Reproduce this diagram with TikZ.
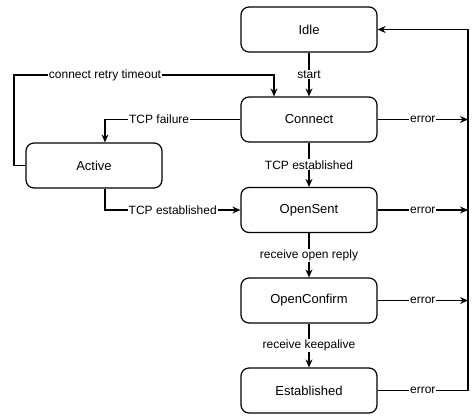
\documentclass[tikz,border=0pt]{standalone}
\usepackage{fontspec}
\setmainfont{Liberation Sans}
\usetikzlibrary{arrows.meta}
\begin{document}
\begin{tikzpicture}[x=1pt,y=-1pt,
  state/.style={draw, rounded corners=8pt, minimum width=136pt, minimum height=45pt, line width=1.2pt, font=\fontsize{13}{15}\selectfont, inner sep=0pt},
  lbl/.style={fill=white, inner sep=1pt, font=\fontsize{12}{14}\selectfont},
  conn/.style={line width=1.2pt, -{Stealth[length=8pt,width=7pt]}},
  plain/.style={line width=1.2pt}]
\useasboundingbox (0,0) rectangle (474,418);
\node[state] (idle) at (309,29.5) {Idle};
\node[state] (connect) at (309,119.5) {Connect};
\node[state] (opensent) at (309,210) {OpenSent};
\node[state] (openconfirm) at (309,300.5) {OpenConfirm};
\node[state] (established) at (309,390.5) {Established};
\node[state] (active) at (94,165.5) {Active};
\coordinate (busTop) at (468,29.5);
\coordinate (busBot) at (468,390.5);
\coordinate (crL) at (14,75);
\coordinate (crR) at (274,75);
\coordinate (tfx) at (105,119.5);
% error bus back to Idle
\draw[conn] (established.east) -- node[lbl]{error} (busBot) -- (busTop) -- (idle.east);
\draw[conn] (connect.east) -- node[lbl]{error} (connect.east -| busBot);
\draw[conn] (opensent.east) -- node[lbl]{error} (opensent.east -| busBot);
\draw[conn] (openconfirm.east) -- node[lbl]{error} (openconfirm.east -| busBot);
% main chain
\draw[conn] (idle) -- node[lbl]{start} (connect);
\draw[conn] (connect) -- node[lbl]{TCP established} (opensent);
\draw[conn] (opensent) -- node[lbl]{receive open reply} (openconfirm);
\draw[conn] (openconfirm) -- node[lbl]{receive keepalive} (established);
% Active loop
\draw[conn] (active.west) -- (active.west -| crL) -- (crL) -- node[lbl,pos=0.35]{connect retry timeout} (crR) -- (crR |- connect.north);
\draw[conn] (connect.west) -- node[lbl,pos=0.6]{TCP failure} (tfx) -- (tfx |- active.north);
\draw[conn] (active.south -| tfx) -- (tfx |- opensent.west) -- node[lbl]{TCP established} (opensent.west);
\end{tikzpicture}
\end{document}
